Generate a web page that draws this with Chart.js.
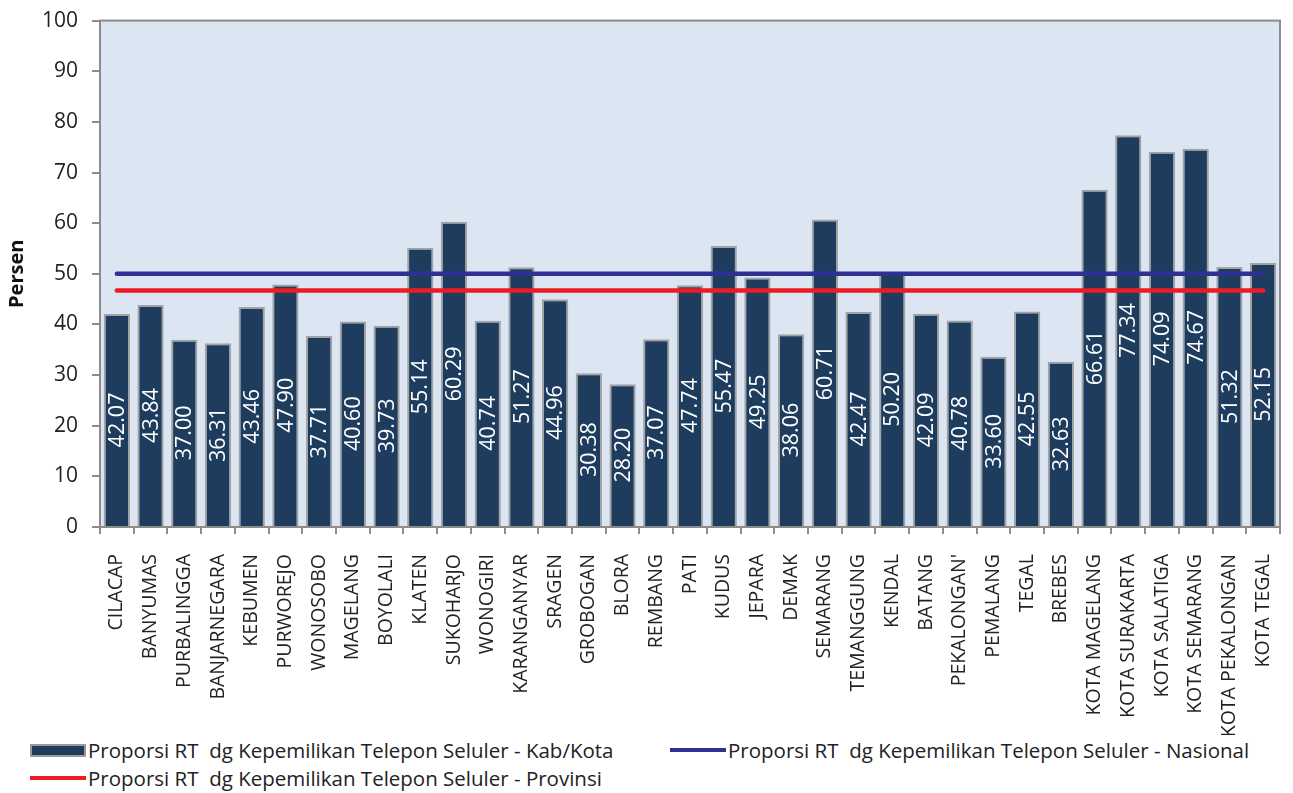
<!DOCTYPE html>
<html lang="id">
<head>
  <meta charset="UTF-8" />
  <title>Proporsi RT dg Kepemilikan Telepon Seluler</title>
  <script src="https://cdn.jsdelivr.net/npm/chart.js"></script>
  <style>
    * {
      box-sizing: border-box;
    }

    body {
      margin: 0;
      background: #fff;
      font-family: 'Open Sans', sans-serif;
      width: 1293px;
      height: 793px;
      overflow: hidden;
      position: relative;
    }

    .wrap {
      position: absolute;
      left: 0;
      top: -6px;
      width: 1293px;
      height: 741px;
    }

    .legend {
      position: absolute;
      left: 30px;
      top: 736px;
      width: 1260px;
      font-size: 20.5px;
      color: #222;
    }

    .legend .item {
      position: absolute;
      display: flex;
      align-items: center;
      white-space: nowrap;
      height: 28px;
    }

    .legend .bar {
      width: 56px;
      height: 13px;
      background: #1e3d5e;
      border: 2px solid #9a9a9a;
      margin-right: 2px;
    }

    .legend .line {
      width: 56px;
      height: 4px;
      margin-right: 2px;
    }
  </style>
</head>
<body>
  <div class="wrap"><canvas id="chart"></canvas></div>

  <div class="legend">
    <div class="item" style="left:0;top:0"><span class="bar"></span>Proporsi RT&nbsp; dg Kepemilikan Telepon Seluler - Kab/Kota</div>
    <div class="item" style="left:640px;top:0"><span class="line" style="background:#2e3192"></span>Proporsi RT&nbsp; dg Kepemilikan Telepon Seluler - Nasional</div>
    <div class="item" style="left:0;top:28px"><span class="line" style="background:#ed1c24"></span>Proporsi RT&nbsp; dg Kepemilikan Telepon Seluler - Provinsi</div>
  </div>

  <script>
    const kabKota = ['CILACAP', 'BANYUMAS', 'PURBALINGGA', 'BANJARNEGARA', 'KEBUMEN', 'PURWOREJO',
      'WONOSOBO', 'MAGELANG', 'BOYOLALI', 'KLATEN', 'SUKOHARJO', 'WONOGIRI', 'KARANGANYAR',
      'SRAGEN', 'GROBOGAN', 'BLORA', 'REMBANG', 'PATI', 'KUDUS', 'JEPARA', 'DEMAK', 'SEMARANG',
      'TEMANGGUNG', 'KENDAL', 'BATANG', "PEKALONGAN'", 'PEMALANG', 'TEGAL', 'BREBES',
      'KOTA MAGELANG', 'KOTA SURAKARTA', 'KOTA SALATIGA', 'KOTA SEMARANG', 'KOTA PEKALONGAN',
      'KOTA TEGAL'];

    const proporsiKab = [42.07, 43.84, 37.00, 36.31, 43.46, 47.90, 37.71, 40.60, 39.73, 55.14,
      60.29, 40.74, 51.27, 44.96, 30.38, 28.20, 37.07, 47.74, 55.47, 49.25, 38.06, 60.71,
      42.47, 50.20, 42.09, 40.78, 33.60, 42.55, 32.63, 66.61, 77.34, 74.09, 74.67, 51.32, 52.15];

    const nasional = 50.0;
    const provinsi = 46.7;

    const yTicks = [0, 10, 20, 30, 40, 50, 60, 70, 80, 90, 100];

    const FONT = "'Open Sans', sans-serif";

    // plot background and frame
    const plotFrame = {
      id: 'plotFrame',
      beforeDraw(chart) {
        const { ctx, chartArea: a } = chart;
        ctx.save();
        ctx.fillStyle = '#dce6f2';
        ctx.fillRect(a.left, a.top, a.width, a.height);
        ctx.restore();
      },
      afterDatasetsDraw(chart) {
        const { ctx, chartArea: a } = chart;
        ctx.save();
        ctx.strokeStyle = '#8c8c8c';
        ctx.lineWidth = 2;
        ctx.strokeRect(a.left, a.top, a.width, a.height);
        ctx.restore();
      }
    };

    // white values written up the middle of each bar
    const barValues = {
      id: 'barValues',
      afterDatasetsDraw(chart) {
        const { ctx } = chart;
        const meta = chart.getDatasetMeta(0);
        ctx.save();
        ctx.fillStyle = '#ffffff';
        ctx.font = '21.5px ' + FONT;
        ctx.textAlign = 'center';
        ctx.textBaseline = 'middle';
        meta.data.forEach((bar, i) => {
          const cy = (bar.y + bar.base) / 2;
          ctx.save();
          ctx.translate(bar.x + 1, cy);
          ctx.rotate(-Math.PI / 2);
          ctx.fillText(proporsiKab[i].toFixed(2), 0, 0);
          ctx.restore();
        });
        ctx.restore();
      }
    };

    new Chart(document.getElementById('chart'), {
      type: 'bar',
      data: {
        labels: kabKota,
        datasets: [
          {
            label: 'Proporsi RT  dg Kepemilikan Telepon Seluler - Kab/Kota',
            data: proporsiKab,
            backgroundColor: '#1e3d5e',
            borderColor: '#a3a3a3',
            borderWidth: 2,
            borderSkipped: 'bottom',
            categoryPercentage: 1,
            barPercentage: 0.78,
            order: 2
          },
          {
            type: 'line',
            label: 'Proporsi RT  dg Kepemilikan Telepon Seluler - Nasional',
            data: kabKota.map(() => nasional),
            borderColor: '#2e3192',
            borderWidth: 4.5,
            borderCapStyle: 'round',
            pointRadius: 0,
            order: 1
          },
          {
            type: 'line',
            label: 'Proporsi RT  dg Kepemilikan Telepon Seluler - Provinsi',
            data: kabKota.map(() => provinsi),
            borderColor: '#ed1c24',
            borderWidth: 4.5,
            borderCapStyle: 'round',
            pointRadius: 0,
            order: 0
          }
        ]
      },
      options: {
        responsive: true,
        maintainAspectRatio: false,
        animation: false,
        layout: { padding: { top: 10, right: 13, left: 0, bottom: 0 } },
        plugins: {
          legend: { display: false },
          tooltip: { enabled: false }
        },
        scales: {
          x: {
            grid: {
              drawOnChartArea: false,
              color: '#8c8c8c',
              lineWidth: 2,
              tickLength: 7,
              offset: true
            },
            border: { display: false },
            ticks: {
              autoSkip: false,
              minRotation: 90,
              maxRotation: 90,
              padding: 20,
              color: '#222',
              font: { family: FONT, size: 19.5 }
            },
            afterFit(scale) {
              scale.height = 741 - 533;
              scale.paddingLeft = 0;
              scale.paddingRight = 0;
            }
          },
          y: {
            min: 0,
            max: 100,
            afterBuildTicks(scale) { scale.ticks = yTicks.map(v => ({ value: v })); },
            grid: {
              drawOnChartArea: false,
              color: '#8c8c8c',
              lineWidth: 2,
              tickLength: 8
            },
            border: { display: false },
            ticks: {
              padding: 14,
              color: '#222',
              font: { family: FONT, size: 21 }
            },
            title: {
              display: true,
              text: 'Persen',
              color: '#111',
              font: { family: FONT, size: 20, weight: 'bold' },
              padding: { top: 5, bottom: 6 }
            },
            afterFit(scale) { scale.width = 100; }
          }
        }
      },
      plugins: [plotFrame, barValues]
    });
  </script>
</body>
</html>
